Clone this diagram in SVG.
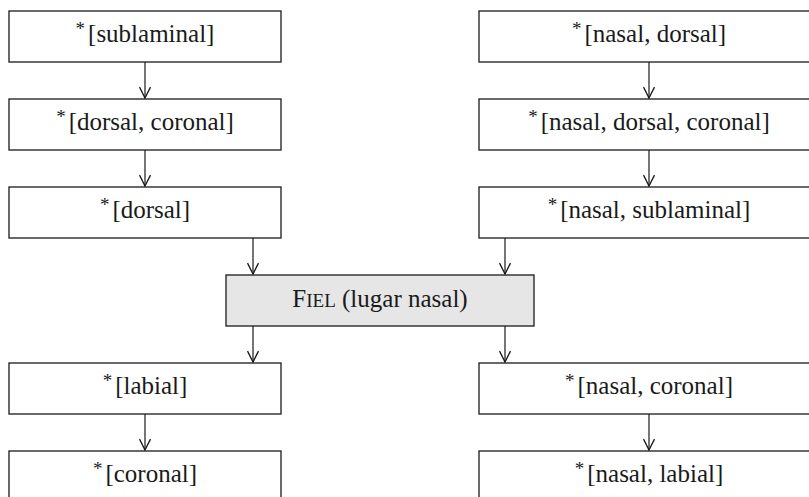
<svg xmlns="http://www.w3.org/2000/svg" width="809" height="497" viewBox="0 0 809 497">
  <style>
    .box { fill: #ffffff; stroke: #2a2a2a; stroke-width: 1.4; }
    .hl { fill: #e6e6e6; }
    .lbl { font-family: 'Liberation Serif', 'Times New Roman', 'DejaVu Serif', serif; font-size: 25px; fill: #1a1a1a; text-anchor: middle; }
    .ast { font-size: 19px; }
    .sc { font-size: 19px; }
    .edge { stroke: #1a1a1a; stroke-width: 1.2; fill: none; marker-end: url(#vee); }
  </style>
  <defs>
    <marker id="vee" markerWidth="12" markerHeight="12" refX="10.5" refY="5.5" markerUnits="userSpaceOnUse" orient="auto" viewBox="0 0 11 11" overflow="visible">
      <path d="M0.5,0.5 L10.5,5.5 L0.5,10.5" fill="none" stroke="#1a1a1a" stroke-width="1.2"/>
    </marker>
  </defs>
  <rect width="809" height="497" fill="#ffffff"/>

  <!-- left column -->
  <g id="n-sublaminal">
    <rect class="box" x="9" y="11" width="272" height="51"/>
    <text class="lbl" x="145" y="42"><tspan class="ast" dy="-7">*</tspan><tspan dx="3" dy="7">[sublaminal]</tspan></text>
  </g>
  <g id="n-dorsal-coronal">
    <rect class="box" x="9" y="99" width="272" height="51"/>
    <text class="lbl" x="145" y="130"><tspan class="ast" dy="-7">*</tspan><tspan dx="3" dy="7">[dorsal, coronal]</tspan></text>
  </g>
  <g id="n-dorsal">
    <rect class="box" x="9" y="187" width="272" height="51"/>
    <text class="lbl" x="145" y="218"><tspan class="ast" dy="-7">*</tspan><tspan dx="3" dy="7">[dorsal]</tspan></text>
  </g>

  <!-- right column -->
  <g id="n-nasal-dorsal">
    <rect class="box" x="479" y="11" width="340" height="51"/>
    <text class="lbl" x="649" y="42"><tspan class="ast" dy="-7">*</tspan><tspan dx="3" dy="7">[nasal, dorsal]</tspan></text>
  </g>
  <g id="n-nasal-dorsal-coronal">
    <rect class="box" x="479" y="99" width="340" height="51"/>
    <text class="lbl" x="649" y="130"><tspan class="ast" dy="-7">*</tspan><tspan dx="3" dy="7">[nasal, dorsal, coronal]</tspan></text>
  </g>
  <g id="n-nasal-sublaminal">
    <rect class="box" x="479" y="187" width="340" height="51"/>
    <text class="lbl" x="649" y="218"><tspan class="ast" dy="-7">*</tspan><tspan dx="3" dy="7">[nasal, sublaminal]</tspan></text>
  </g>

  <!-- faithfulness constraint -->
  <g id="n-fiel">
    <rect class="box hl" x="226" y="275" width="308" height="51"/>
    <text class="lbl" x="380" y="307">F<tspan class="sc">IEL</tspan> (lugar nasal)</text>
  </g>

  <!-- lower rows -->
  <g id="n-labial">
    <rect class="box" x="9" y="363" width="272" height="51"/>
    <text class="lbl" x="145" y="394"><tspan class="ast" dy="-7">*</tspan><tspan dx="3" dy="7">[labial]</tspan></text>
  </g>
  <g id="n-coronal">
    <rect class="box" x="9" y="451" width="272" height="60"/>
    <text class="lbl" x="145" y="482"><tspan class="ast" dy="-7">*</tspan><tspan dx="3" dy="7">[coronal]</tspan></text>
  </g>
  <g id="n-nasal-coronal">
    <rect class="box" x="479" y="363" width="340" height="51"/>
    <text class="lbl" x="649" y="394"><tspan class="ast" dy="-7">*</tspan><tspan dx="3" dy="7">[nasal, coronal]</tspan></text>
  </g>
  <g id="n-nasal-labial">
    <rect class="box" x="479" y="451" width="340" height="60"/>
    <text class="lbl" x="649" y="482"><tspan class="ast" dy="-7">*</tspan><tspan dx="3" dy="7">[nasal, labial]</tspan></text>
  </g>

  <!-- connectors -->
  <g id="edges">
    <line class="edge" x1="145" y1="62" x2="145" y2="98"/>
    <line class="edge" x1="145" y1="150" x2="145" y2="186"/>
    <line class="edge" x1="649" y1="62" x2="649" y2="98"/>
    <line class="edge" x1="649" y1="150" x2="649" y2="186"/>
    <line class="edge" x1="253" y1="238" x2="253" y2="274"/>
    <line class="edge" x1="505" y1="238" x2="505" y2="274"/>
    <line class="edge" x1="253" y1="326" x2="253" y2="362"/>
    <line class="edge" x1="505" y1="326" x2="505" y2="362"/>
    <line class="edge" x1="145" y1="414" x2="145" y2="450"/>
    <line class="edge" x1="649" y1="414" x2="649" y2="450"/>
  </g>
</svg>
